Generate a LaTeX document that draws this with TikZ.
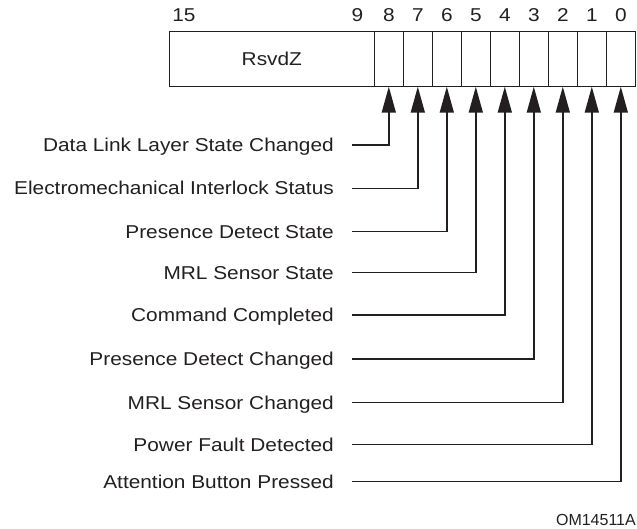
\documentclass[tikz,border=0pt]{standalone}
\usepackage{fontspec}
\setmainfont{Liberation Sans}[FakeStretch=1.12]
\newfontfamily\plainsans{Liberation Sans}
\usetikzlibrary{arrows.meta}
\definecolor{ink}{HTML}{231F20}
\begin{document}
\begin{tikzpicture}[x=1pt,y=-1pt,
  every node/.style={text=ink},
  cell/.style={draw=ink, line width=1.5pt, minimum height=55pt, inner sep=0pt, outer sep=0pt},
  bitcell/.style={cell, minimum width=29pt, anchor=west},
  lbl/.style={anchor=east, inner sep=0pt, text height=13.4pt, text depth=0pt, font=\fontsize{18.6}{20}\selectfont},
  num/.style={anchor=base, inner sep=0pt, font=\fontsize{18.6}{20}\selectfont},
  wire/.style={draw=ink, line width=1.5pt, -{Triangle[length=26pt,width=14pt]}},
]
\useasboundingbox (0,0) rectangle (637,529);

% register
\node[cell, minimum width=205pt, font=\fontsize{18.6}{20}\selectfont] (rsvd) at (271.8,59.2) {RsvdZ};
\node[bitcell] (b8) at (rsvd.east) {};
\node[bitcell] (b7) at (b8.east) {};
\node[bitcell] (b6) at (b7.east) {};
\node[bitcell] (b5) at (b6.east) {};
\node[bitcell] (b4) at (b5.east) {};
\node[bitcell] (b3) at (b4.east) {};
\node[bitcell] (b2) at (b3.east) {};
\node[bitcell] (b1) at (b2.east) {};
\node[bitcell] (b0) at (b1.east) {};

% bit numbers
\node[num] (n15) at ([xshift=14.7pt,yshift=10pt]rsvd.north west) {15};
\node[num] (n9) at ([xshift=-16.8pt,yshift=10pt]rsvd.north east) {9};
\foreach \b in {8,...,0}{
  \node[num] (n\b) at ([yshift=10pt]b\b.north) {\b};
}

% labels
\node[lbl] (l8) at (334,145) {Data Link Layer State Changed};
\node[lbl] (l7) at (334,188.3) {Electromechanical Interlock Status};
\node[lbl] (l6) at (334,231.7) {Presence Detect State};
\node[lbl] (l5) at (334,272.7) {MRL Sensor State};
\node[lbl] (l4) at (334,315) {Command Completed};
\node[lbl] (l3) at (334,359) {Presence Detect Changed};
\node[lbl] (l2) at (334,402.3) {MRL Sensor Changed};
\node[lbl] (l1) at (334,444.3) {Power Fault Detected};
\node[lbl] (l0) at (334,481.7) {Attention Button Pressed};

% connectors
\foreach \b in {8,...,0}{
  \draw[wire] ([xshift=17.7pt]l\b.east) -| (b\b.south);
}

\node[anchor=base east, inner sep=0pt, font=\plainsans\fontsize{16}{18}\selectfont] (om) at (636,525) {OM14511A};
\end{tikzpicture}
\end{document}
